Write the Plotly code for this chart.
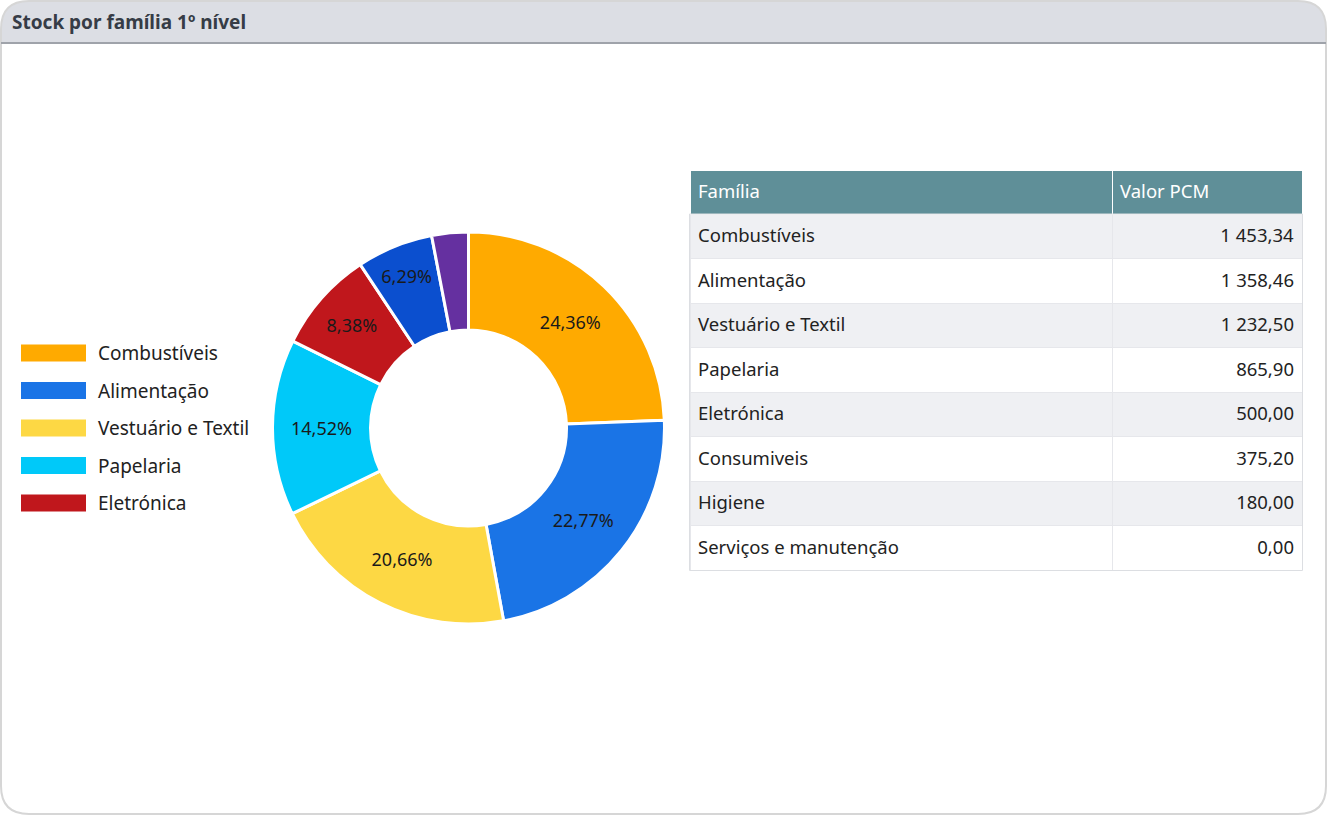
import plotly.graph_objects as go

W, H = 1328, 816

categories = ["Combustíveis", "Alimentação", "Vestuário e Textil", "Papelaria",
              "Eletrónica", "Consumiveis", "Higiene", "Serviços e manutenção"]
values = [1453.34, 1358.46, 1232.50, 865.90, 500.00, 375.20, 180.00, 0.00]
value_labels = ["1 453,34", "1 358,46", "1 232,50", "865,90", "500,00", "375,20", "180,00", "0,00"]
colors = ["#FFAA00", "#1A74E6", "#FDD844", "#00C9F9", "#C0171C", "#0B4FCF", "#6530A0", "#999999"]
legend_items = categories[:5]
table_headers = ["Família", "Valor PCM"]

FONT = "Noto Sans, Open Sans, sans-serif"


def px(x):
    return x / W


def py(y):
    return 1 - y / H


def vcenter(items):
    # an empty tag makes plotly lay the text out as rich text, which centres it vertically
    return ["<span></span>" + s for s in items]


fig = go.Figure()

# donut
texttemplate = ["%{percent:.2%}" if v / sum(values) > 0.05 else "" for v in values]
fig.add_trace(go.Pie(
    labels=categories, values=values,
    hole=0.5, sort=False, direction="clockwise", rotation=0,
    marker=dict(colors=colors, line=dict(color="white", width=3)),
    texttemplate=texttemplate, textposition="inside",
    insidetextorientation="horizontal",
    textfont=dict(family=FONT, size=18, color="#1a1a1a"),
    domain=dict(x=[px(272), px(665)], y=[py(624), py(232)]),
    showlegend=False, hoverinfo="label+value+percent",
))

# table
n = len(categories)
row_fill = ["#EFF0F3" if i % 2 == 0 else "#FFFFFF" for i in range(n)]
fig.add_trace(go.Table(
    domain=dict(x=[px(690), px(1302)], y=[py(571), py(170)]),
    columnwidth=[422, 190],
    header=dict(
        values=vcenter(table_headers),
        fill_color="#5F8F98",
        line=dict(color="#FFFFFF", width=1),
        align=["left", "left"],
        font=dict(family=FONT, size=18.5, color="white"),
        height=44,
    ),
    cells=dict(
        values=[vcenter(categories), vcenter(value_labels)],
        fill_color=[row_fill, row_fill],
        line=dict(color="#E6E7EB", width=1),
        align=["left", "right"],
        font=dict(family=FONT, size=18.5, color="#222222"),
        height=44.5,
    ),
))

shapes = []
annotations = []

# card border with rounded corners
r = 28
x0, x1, y0, y1 = 1, 1326, 1, 814
card_path = (
    f"M {px(x0 + r)},{py(y0)} L {px(x1 - r)},{py(y0)} Q {px(x1)},{py(y0)} {px(x1)},{py(y0 + r)} "
    f"L {px(x1)},{py(y1 - r)} Q {px(x1)},{py(y1)} {px(x1 - r)},{py(y1)} "
    f"L {px(x0 + r)},{py(y1)} Q {px(x0)},{py(y1)} {px(x0)},{py(y1 - r)} "
    f"L {px(x0)},{py(y0 + r)} Q {px(x0)},{py(y0)} {px(x0 + r)},{py(y0)} Z"
)
# title bar with rounded top corners
tb = 42
title_path = (
    f"M {px(x0 + r)},{py(y0)} L {px(x1 - r)},{py(y0)} Q {px(x1)},{py(y0)} {px(x1)},{py(y0 + r)} "
    f"L {px(x1)},{py(tb)} L {px(x0)},{py(tb)} L {px(x0)},{py(y0 + r)} "
    f"Q {px(x0)},{py(y0)} {px(x0 + r)},{py(y0)} Z"
)
shapes.append(dict(type="path", xref="paper", yref="paper", path=title_path,
                   fillcolor="#DCDEE4", line=dict(width=0), layer="below"))
shapes.append(dict(type="path", xref="paper", yref="paper", path=card_path,
                   fillcolor="rgba(0,0,0,0)", line=dict(color="#D6D6D6", width=2), layer="below"))
shapes.append(dict(type="line", xref="paper", yref="paper", x0=px(x0), x1=px(x1),
                   y0=py(tb + 1), y1=py(tb + 1), line=dict(color="#9FA3AA", width=2), layer="below"))
# light outline round the table body
shapes.append(dict(type="rect", xref="paper", yref="paper",
                   x0=px(689.5), x1=px(1302.5), y0=py(570.5), y1=py(214),
                   fillcolor="rgba(0,0,0,0)", line=dict(color="#DCDEE2", width=1), layer="above"))

annotations.append(dict(text="<b>Stock por família 1º nível</b>", xref="paper", yref="paper",
                        x=px(10), y=py(22), xanchor="left", yanchor="middle", showarrow=False,
                        font=dict(family=FONT, size=19, color="#363C46")))

# custom legend
for i, name in enumerate(legend_items):
    yc = 353 + i * 37.5
    shapes.append(dict(type="rect", xref="paper", yref="paper",
                       x0=px(21), x1=px(86), y0=py(yc - 8.5), y1=py(yc + 8.5),
                       fillcolor=colors[i], line=dict(width=0)))
    annotations.append(dict(text=name, xref="paper", yref="paper", x=px(96), y=py(yc),
                            xanchor="left", yanchor="middle", showarrow=False,
                            font=dict(family=FONT, size=19, color="#222222")))

fig.update_layout(
    width=W, height=H,
    margin=dict(l=0, r=0, t=0, b=0),
    paper_bgcolor="white", plot_bgcolor="white",
    separators=", ",
    shapes=shapes, annotations=annotations,
    showlegend=False,
    font=dict(family=FONT),
)

fig.write_html("out.html")
